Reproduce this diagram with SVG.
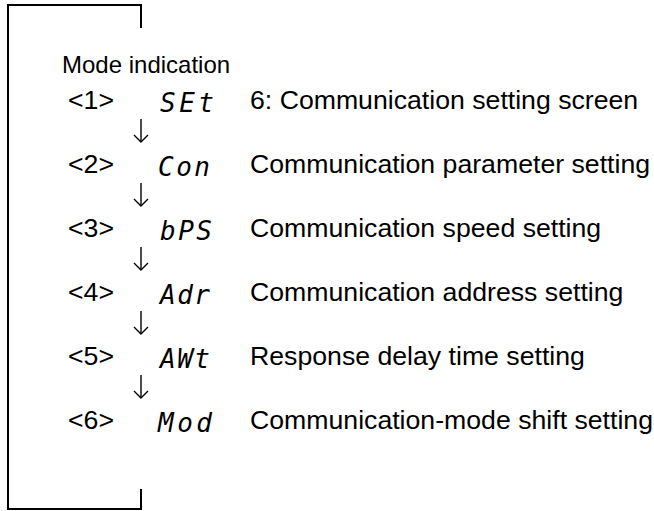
<svg xmlns="http://www.w3.org/2000/svg" width="654" height="511" viewBox="0 0 654 511">
  <style>
    .t { font-family: "Liberation Sans", Arial, sans-serif; font-size: 26.67px; fill: #000; }
    .h { font-family: "Liberation Sans", Arial, sans-serif; font-size: 24px; fill: #000; }
    .seg { font-family: "DejaVu Sans Mono", monospace; font-size: 26px; font-style: oblique; fill: #000; }
    .frame { fill: none; stroke: #000; stroke-width: 2; }
    .conn { fill: none; stroke: #000; stroke-width: 1.4; }
    .head { fill: none; stroke: #000; stroke-width: 1.4; stroke-linejoin: miter; }
  </style>
  <defs>
    <marker id="arr" markerWidth="16" markerHeight="16" refX="8" refY="8" orient="auto" markerUnits="userSpaceOnUse">
      <path d="M1,1 L8,8 L1,15" class="head"/>
    </marker>
  </defs>
  <rect width="654" height="511" fill="#fff"/>

  <g id="frame">
    <path class="frame" d="M141,28 V5 H8 V509 H141 V489"/>
  </g>

  <text class="h" x="62" y="73">Mode indication</text>

  <g id="node1">
    <text class="t" x="68" y="109">&lt;1&gt;</text>
    <text class="seg" x="160" y="112" textLength="54" lengthAdjust="spacing">SEt</text>
    <text class="t" x="250" y="109">6: Communication setting screen</text>
  </g>
  <g id="node2">
    <text class="t" x="68" y="173">&lt;2&gt;</text>
    <text class="seg" x="158" y="176" textLength="52" lengthAdjust="spacing">Con</text>
    <text class="t" x="250" y="173">Communication parameter setting</text>
  </g>
  <g id="node3">
    <text class="t" x="68" y="237">&lt;3&gt;</text>
    <text class="seg" x="160" y="240" textLength="52" lengthAdjust="spacing">bPS</text>
    <text class="t" x="250" y="237">Communication speed setting</text>
  </g>
  <g id="node4">
    <text class="t" x="68" y="301">&lt;4&gt;</text>
    <text class="seg" x="160" y="304" textLength="50" lengthAdjust="spacing">Adr</text>
    <text class="t" x="250" y="301">Communication address setting</text>
  </g>
  <g id="node5">
    <text class="t" x="68" y="365">&lt;5&gt;</text>
    <text class="seg" x="160" y="368" textLength="50" lengthAdjust="spacing">AWt</text>
    <text class="t" x="250" y="365">Response delay time setting</text>
  </g>
  <g id="node6">
    <text class="t" x="68" y="429">&lt;6&gt;</text>
    <text class="seg" x="158" y="432" textLength="54" lengthAdjust="spacing">Mod</text>
    <text class="t" x="250" y="429">Communication-mode shift setting</text>
  </g>

  <g id="connectors">
    <line class="conn" x1="141" y1="119" x2="141" y2="142" marker-end="url(#arr)"/>
    <line class="conn" x1="141" y1="183" x2="141" y2="206" marker-end="url(#arr)"/>
    <line class="conn" x1="141" y1="247" x2="141" y2="270" marker-end="url(#arr)"/>
    <line class="conn" x1="141" y1="311" x2="141" y2="334" marker-end="url(#arr)"/>
    <line class="conn" x1="141" y1="375" x2="141" y2="398" marker-end="url(#arr)"/>
  </g>
</svg>
